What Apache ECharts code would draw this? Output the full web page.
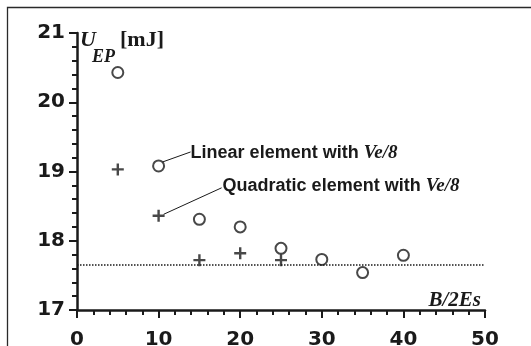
<!DOCTYPE html>
<html>
<head>
<meta charset="utf-8">
<script src="https://cdn.jsdelivr.net/npm/echarts@6/dist/echarts.min.js"></script>
<style>
  html, body { margin: 0; padding: 0; background: #fff; }
  #chart { width: 531px; height: 346px; }
</style>
</head>
<body>
<div id="chart"></div>
<script>
// Strain energy U_EP versus B/2Es for the two element types
const ratioLinear = [5, 10, 15, 20, 25, 30, 35, 40];
const energyLinear = [20.43, 19.08, 18.31, 18.20, 17.89, 17.73, 17.54, 17.79];

const ratioQuadratic = [5, 10, 15, 20, 25];
const energyQuadratic = [19.03, 18.36, 17.72, 17.82, 17.72];

// Reference level (dotted line) across the full range
const referenceX = [0, 50];
const referenceLevel = [17.65, 17.65];

const xTicks = [0, 10, 20, 30, 40, 50];
const yTicks = [17, 18, 19, 20, 21];

const INK = '#1a1a1a';
const SANS = '"Liberation Sans", Arial, sans-serif';
const WIDE = '"DejaVu Sans", sans-serif';
const SERIF = '"Liberation Serif", "Times New Roman", serif';

// Plus marker drawn as a filled path
const PLUS = 'path://M-1.2,-6L1.2,-6L1.2,-1.2L6,-1.2L6,1.2L1.2,1.2L1.2,6L-1.2,6L-1.2,1.2L-6,1.2L-6,-1.2L-1.2,-1.2Z';

function pairs(xs, ys) { return xs.map((x, i) => [x, ys[i]]); }

const axisCommon = {
  axisLine: { show: true, onZero: false, lineStyle: { color: INK, width: 2.5 } },
  axisTick: { show: true, inside: false, length: 8, lineStyle: { color: INK, width: 2 } },
  minorTick: { show: true, splitNumber: 5, length: 5, lineStyle: { color: INK, width: 2 } },
  splitLine: { show: false },
  minorSplitLine: { show: false },
  axisLabel: { color: INK, fontFamily: WIDE, fontWeight: 'bold', fontSize: 20 }
};

const chart = echarts.init(document.getElementById('chart'), null, { renderer: 'canvas' });

chart.setOption({
  animation: false,
  backgroundColor: '#fff',
  grid: { left: 77, right: 46, top: 33, bottom: 36, containLabel: false, outerBoundsMode: 'none' },
  xAxis: Object.assign({}, axisCommon, {
    type: 'value',
    min: xTicks[0], max: xTicks[xTicks.length - 1], interval: 10,
    axisLabel: Object.assign({}, axisCommon.axisLabel, { margin: 20 })
  }),
  yAxis: Object.assign({}, axisCommon, {
    type: 'value',
    min: yTicks[0], max: yTicks[yTicks.length - 1], interval: 1,
    axisLabel: Object.assign({}, axisCommon.axisLabel, { margin: 12 })
  }),
  series: [
    {
      name: 'Linear element with Ve/8',
      type: 'scatter',
      data: pairs(ratioLinear, energyLinear),
      symbol: 'circle',
      symbolSize: 11,
      itemStyle: { color: 'rgba(0,0,0,0)', borderColor: INK, borderWidth: 2 },
      z: 3
    },
    {
      name: 'Quadratic element with Ve/8',
      type: 'scatter',
      data: pairs(ratioQuadratic, energyQuadratic),
      symbol: PLUS,
      symbolSize: 12,
      itemStyle: { color: INK },
      z: 2
    },
    {
      name: 'reference',
      type: 'line',
      data: pairs(referenceX, referenceLevel),
      symbol: 'none',
      lineStyle: { color: INK, width: 1.5, type: [1.5, 1.5] },
      z: 1
    }
  ]
});

// Annotation positions follow the data points through the axes
const pLin = chart.convertToPixel({ seriesIndex: 0 }, [ratioLinear[1], energyLinear[1]]);
const pQuad = chart.convertToPixel({ seriesIndex: 1 }, [ratioQuadratic[1], energyQuadratic[1]]);
const pAxisEnd = chart.convertToPixel({ seriesIndex: 0 }, [xTicks[xTicks.length - 1], yTicks[0]]);
const pAxisTop = chart.convertToPixel({ seriesIndex: 0 }, [xTicks[0], yTicks[yTicks.length - 1]]);

const annotationRich = {
  a: { fontFamily: SANS, fontWeight: 'bold', fontSize: 18, fill: INK },
  b: { fontFamily: SERIF, fontWeight: 'bold', fontStyle: 'italic', fontSize: 19, fill: INK }
};

chart.setOption({
  graphic: [
    // frame
    { type: 'rect', shape: { x: 7.5, y: 7.5, width: 800, height: 800 },
      style: { fill: 'none', stroke: '#2a2a2a', lineWidth: 1.3 }, silent: true },
    // leader lines
    { type: 'line', shape: { x1: pLin[0] + 4, y1: pLin[1] - 4, x2: pLin[0] + 32, y2: pLin[1] - 14 },
      style: { stroke: INK, lineWidth: 1 } },
    { type: 'line', shape: { x1: pQuad[0] + 5, y1: pQuad[1] - 1.5, x2: pQuad[0] + 63, y2: pQuad[1] - 28 },
      style: { stroke: INK, lineWidth: 1 } },
    { type: 'text', x: pLin[0] + 32, y: pLin[1] - 12.5,
      style: { text: '{a|Linear element with }{b|Ve/8}', rich: annotationRich, verticalAlign: 'middle', align: 'left' } },
    { type: 'text', x: pQuad[0] + 64, y: pQuad[1] - 30,
      style: { text: '{a|Quadratic element with }{b|Ve/8}', rich: annotationRich, verticalAlign: 'middle', align: 'left' } },
    // axis titles
    { type: 'text', x: pAxisTop[0] + 3, y: pAxisTop[1] + 7,
      style: { text: 'U', fontFamily: SERIF, fontWeight: 'bold', fontStyle: 'italic', fontSize: 22, fill: INK, verticalAlign: 'middle' } },
    { type: 'text', x: pAxisTop[0] + 15, y: pAxisTop[1] + 24,
      style: { text: 'EP', fontFamily: SERIF, fontWeight: 'bold', fontStyle: 'italic', fontSize: 18, fill: INK, verticalAlign: 'middle' } },
    { type: 'text', x: pAxisTop[0] + 43, y: pAxisTop[1] + 7,
      style: { text: '[mJ]', fontFamily: SERIF, fontWeight: 'bold', fontSize: 22, fill: INK, verticalAlign: 'middle' } },
    { type: 'text', x: pAxisEnd[0] - 4, y: pAxisEnd[1] - 9,
      style: { text: 'B/2Es', fontFamily: SERIF, fontWeight: 'bold', fontStyle: 'italic', fontSize: 21, fill: INK, verticalAlign: 'middle', align: 'right' } }
  ]
});
</script>
</body>
</html>
